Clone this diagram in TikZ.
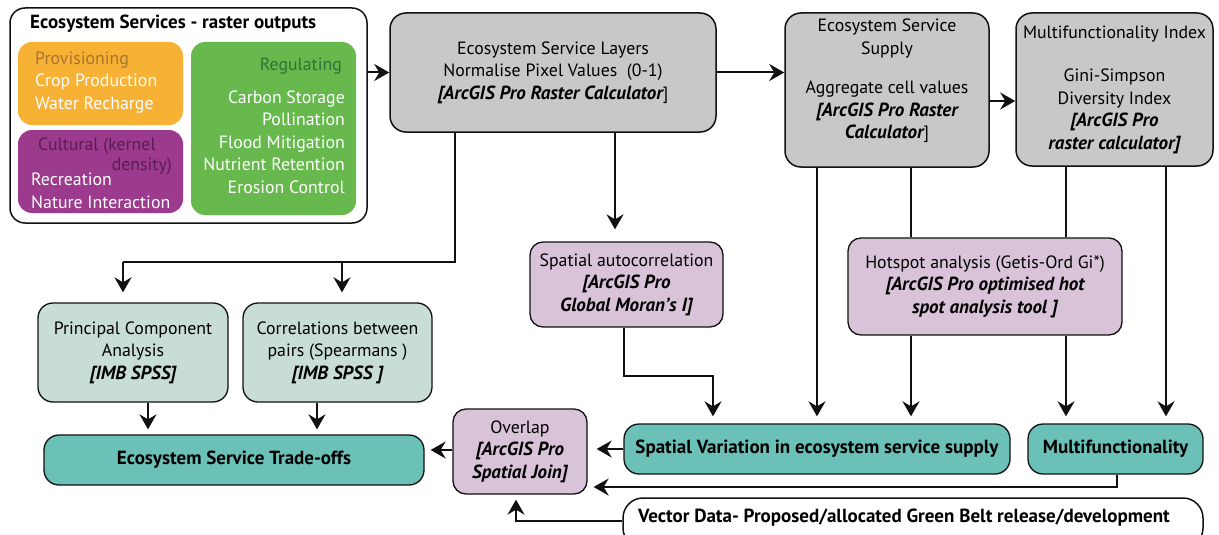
\documentclass[tikz,border=0pt]{standalone}
\usepackage{fontspec}
\setmainfont{PT Sans}
\usetikzlibrary{positioning,arrows.meta,calc}
\definecolor{INKc}{HTML}{111111}
\definecolor{CGREY}{HTML}{C8C8C8}
\definecolor{CLILAC}{HTML}{D8C3D9}
\definecolor{CSAGE}{HTML}{C8DDD5}
\definecolor{CTEAL}{HTML}{6BC1B7}
\definecolor{CORANGE}{HTML}{F7B134}
\definecolor{CPURPLE}{HTML}{9C3A8D}
\definecolor{CGREEN}{HTML}{67B94E}
\definecolor{PROVc}{HTML}{A8752E}
\definecolor{CULc}{HTML}{581D53}
\definecolor{REGc}{HTML}{2B7337}
\newcommand{\swtool}[1]{{\fontsize{19}{22.5}\selectfont\bfseries\itshape #1}}

\begin{document}
\begin{tikzpicture}[
  x=1pt, y=-1pt,
  font=\fontsize{17.8}{22.5}\selectfont,
  % grey processing boxes
  gbox/.style={draw=INKc, line width=1.5, rounded corners=16pt, fill=CGREY,
               align=center, inner sep=0pt},
  % lilac analysis boxes
  lbox/.style={draw=INKc, line width=1.3, rounded corners=13pt, fill=CLILAC,
               align=center, inner sep=0pt},
  % sage statistics boxes
  sbox/.style={draw=INKc, line width=1.3, rounded corners=15pt, fill=CSAGE,
               align=center, inner sep=0pt},
  % teal result boxes
  tbox/.style={draw=INKc, line width=1.3, rounded corners=15pt, fill=CTEAL,
               align=center, inner sep=0pt, font=\fontsize{19}{22.5}\selectfont\bfseries},
  % coloured service groups
  cbox/.style={draw=none, rounded corners=14pt, inner sep=0pt},
  txt/.style={inner sep=0pt, align=left},
  ar/.style={-{Stealth[length=15pt, width=17pt, inset=5pt]}, color=INKc, line width=2},
  ln/.style={color=INKc, line width=2},
]
\useasboundingbox (0,0) rectangle (1219,535);

% ---------- Raster outputs ----------
\node[draw=INKc, line width=1.5, rounded corners=15pt, fill=white,
      minimum width=357pt, minimum height=215pt] (ES) at (188.5,115.5) {};
\node[txt, anchor=west, font=\fontsize{19}{22.5}\selectfont\bfseries] (EST) at (30,24)
  {Ecosystem Services - raster outputs};

\node[cbox, fill=CORANGE, minimum width=165pt, minimum height=83pt] (PROV) at (100.5,83.5) {};
\node[txt, anchor=west, color=white] (PROVT) at (35,82.5)
  {\textcolor{PROVc}{Provisioning}\\Crop Production\\Water Recharge};

\node[cbox, fill=CPURPLE, minimum width=165pt, minimum height=83pt] (CUL) at (100.5,171.5) {};
\node[txt, anchor=west, color=CULc] (CULT1) at (38,146) {Cultural (kernel};
\node[txt, anchor=east, color=CULc] (CULT2) at (172,166) {density)};
\node[txt, anchor=west, color=white] (CULL) at (31,191) {Recreation\\Nature Interaction};

\node[cbox, fill=CGREEN, minimum width=165pt, minimum height=173pt] (REG) at (273.5,128.5) {};
\node[txt, anchor=east, color=REGc] (REGT) at (342,66) {Regulating};
\node[txt, anchor=east, align=right, color=white] (REGL) at (345,142)
  {Carbon Storage\\Pollination\\Flood Mitigation\\Nutrient Retention\\Erosion Control};

% ---------- Top row ----------
\node[gbox, minimum width=326pt, minimum height=119pt] (ESL) at (553,72.5)
  {Ecosystem Service Layers\\Normalise Pixel Values~~(0-1)\\\swtool{[ArcGIS Pro Raster Calculator}]};
\node[gbox, minimum width=204pt, minimum height=154pt] (SUP) at (887,90) {};
\node[txt, align=center] (SUPT) at (887,81)
  {Ecosystem Service\\Supply\\[17pt]Aggregate cell values\\\swtool{[ArcGIS Pro Raster}\\\swtool{Calculator}]};
\node[gbox, minimum width=197pt, minimum height=153pt] (MFI) at (1114.5,89.5)
  {Multifunctionality Index\\[21pt]Gini-Simpson\\Diversity Index\\\swtool{[ArcGIS Pro}\\\swtool{raster calculator]}};

% ---------- Middle row ----------
\node[lbox, minimum width=193pt, minimum height=85pt] (SA) at (626.5,284.5)
  {Spatial autocorrelation\\\swtool{[ArcGIS Pro}\\\swtool{Global Moran’s I]}};
\node[lbox, minimum width=274pt, minimum height=97pt] (HOT) at (985,286.5)
  {Hotspot analysis (Getis-Ord Gi*)\\\swtool{[ArcGIS Pro optimised hot}\\\swtool{spot analysis tool ]}};
\node[sbox, minimum width=190pt, minimum height=99pt] (PCA) at (133,352.5)
  {Principal Component\\Analysis\\\swtool{[IMB SPSS]}};
\node[sbox, minimum width=189pt, minimum height=99pt] (COR) at (337.5,352.5)
  {Correlations between\\pairs (Spearmans )\\\swtool{[IMB SPSS ]}};

% ---------- Bottom row ----------
\node[tbox, minimum width=380pt, minimum height=50pt] (TRD) at (234,460) {Ecosystem Service Trade-offs};
\node[lbox, minimum width=134pt, minimum height=85pt] (OVL) at (520,451.5)
  {Overlap\\\swtool{[ArcGIS Pro}\\\swtool{Spatial Join]}};
\node[tbox, minimum width=386pt, minimum height=50pt] (SV) at (817,449)
  {Spatial Variation in ecosystem service supply};
\node[tbox, minimum width=175pt, minimum height=50pt] (MF) at (1115.5,449) {Multifunctionality};
\node[draw=INKc, line width=1.5, rounded corners=20pt, fill=white,
      minimum width=580pt, minimum height=50pt] (VEC) at (913,523) {};
\node[txt, font=\fontsize{19}{22.5}\selectfont\bfseries] (VECT) at (904,518)
  {Vector Data- Proposed/allocated Green Belt release/development};

% ---------- Top row arrows ----------
\draw[ar] (ES.east |- ESL.west) -- (ESL.west);
\draw[ar] (ESL.east) -- (ESL.east -| SUP.west);
\coordinate (s2m) at ($(SUP.east)+(0,11)$);
\draw[ar] (s2m) -- (s2m -| MFI.west);

% ---------- ESL -> statistics ----------
\coordinate (split) at (455,262);
\coordinate (jL) at (123,262);
\coordinate (jR) at (342,262);
\draw[ln] (ESL.south -| split) -- (split) -- (jL);
\draw[ar, shorten >=10pt] (jL) -- (jL |- PCA.north);
\draw[ar, shorten >=10pt] (jR) -- (jR |- COR.north);

% ---------- ESL -> SA -> SV ----------
\coordinate (jS) at (615,0);
\draw[ar, shorten >=12pt] (ESL.south -| jS) -- (jS |- SA.north);
\coordinate (sa1) at (624,376);
\coordinate (sa2) at (713,376);
\draw[ar, shorten >=7pt] (SA.south -| sa1) -- (sa1) -- (sa2) -- (sa2 |- SV.north);

% ---------- Supply / MFI -> hotspot -> results ----------
\coordinate (c1) at (817,0);
\coordinate (c2) at (911,0);
\coordinate (c3) at (1066,0);
\coordinate (c4) at (1166,0);
\draw[ar, shorten >=7pt] (SUP.south -| c1) -- (c1 |- SV.north);
\draw[ln] (SUP.south -| c2) -- (c2 |- HOT.north);
\draw[ar, shorten >=7pt] (HOT.south -| c2) -- (c2 |- SV.north);
\draw[ln] (MFI.south -| c3) -- (c3 |- HOT.north);
\draw[ar, shorten >=7pt] (HOT.south -| c3) -- (c3 |- MF.north);
\draw[ar, shorten >=7pt] (MFI.south -| c4) -- (c4 |- MF.north);

% ---------- statistics -> trade-offs ----------
\coordinate (p1) at (148,0);
\coordinate (p2) at (317,0);
\draw[ar, shorten >=5pt] (PCA.south -| p1) -- (p1 |- TRD.north);
\draw[ar, shorten >=5pt] (COR.south -| p2) -- (p2 |- TRD.north);

% ---------- overlap ----------
\draw[ar, shorten >=9pt] (SV.west) -- (SV.west -| OVL.east);
\coordinate (m1) at (1117,487);
\draw[ar, shorten >=6pt] (MF.south -| m1) -- (m1) -- (m1 -| OVL.east);
\coordinate (v1) at (516,521);
\draw[ar, shorten >=5pt] (v1 -| VEC.west) -- (v1) -- (v1 |- OVL.south);
\coordinate (t1) at (0,450);
\draw[ar, shorten >=6pt] (OVL.west |- t1) -- (t1 -| TRD.east);

\end{tikzpicture}
\end{document}
